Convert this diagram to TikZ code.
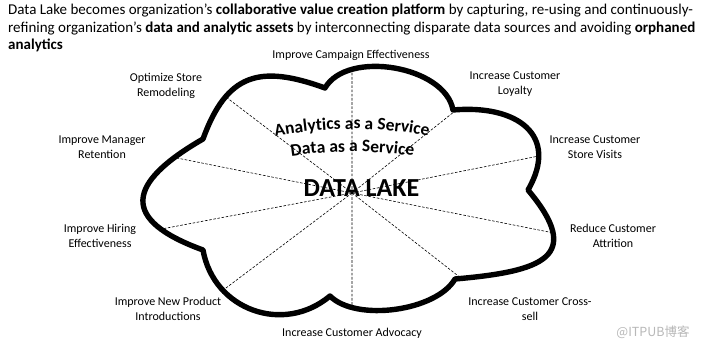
\documentclass[tikz,border=0pt]{standalone}
\usepackage{fontspec}
\setmainfont{Carlito}
\newfontfamily\cjkfont{Noto Sans CJK SC}
\usetikzlibrary{decorations.text,intersections}
\begin{document}
\begin{tikzpicture}[x=1pt,y=1pt,
  cloudline/.style={line width=5.4pt, line join=round, line cap=round},
  spoke/.style={line width=0.6pt, dash pattern=on 2.6pt off 1.6pt},
  lbl/.style={align=center, font=\fontsize{12}{14.6}\selectfont, inner sep=0pt},
]
\useasboundingbox (0,0) rectangle (704,-347);
\fill[white] (0,0) rectangle (704,-347);
\coordinate (c) at (352,-193);
\coordinate (d1) at (203,-139);
\coordinate (d2) at (325,-88);
\coordinate (d3) at (453,-110);
\coordinate (d4) at (528,-190);
\coordinate (d5) at (455,-279);
\coordinate (d6) at (330,-296);
\coordinate (d7) at (203,-250);
\path[name path=cloudp] (d1) to[out=70,in=160,looseness=1.35] (d2)
  to[out=60,in=100,looseness=0.88] (d3)
  to[out=5,in=60,looseness=1.49] (d4)
  to[out=-50,in=5,looseness=1.95] (d5)
  to[out=-120,in=-45,looseness=0.75] (d6)
  to[out=-140,in=-80,looseness=1.15] (d7)
  to[out=160,in=-150,looseness=2.05] (d1);
\foreach \a/\n in {90/1,38.5/2,11.2/3,-11.2/4,-38/5,-90/6,-143/7,-169.3/8,168.7/9,142.7/10}{
  \path[name path=ray\n] (c) -- ++(\a:320);
  \path[name intersections={of=cloudp and ray\n, by={e\n}}];
}
\foreach \n in {1,...,10}{\draw[spoke] (c) -- (e\n);}
\draw[cloudline] (d1) to[out=70,in=160,looseness=1.35] (d2)
  to[out=60,in=100,looseness=0.88] (d3)
  to[out=5,in=60,looseness=1.49] (d4)
  to[out=-50,in=5,looseness=1.95] (d5)
  to[out=-120,in=-45,looseness=0.75] (d6)
  to[out=-140,in=-80,looseness=1.15] (d7)
  to[out=160,in=-150,looseness=2.05] (d1);
% arched texts: baseline arcs centred on x = 352
\path[decorate, decoration={text along path, text align=center,
  text={|\fontsize{17.5}{20}\selectfont\bfseries|Analytics as a Service}}]
  (352,-529) ++(0,0) coordinate (ac)
  (ac) ++(105:400) arc[start angle=105, end angle=75, radius=400];
\path[decorate, decoration={text along path, text align=center,
  text={|\fontsize{17.5}{20}\selectfont\bfseries|Data as a Service}}]
  (276.1,-158.5) arc[start angle=100, end angle=80, radius=440];
\node[anchor=base, inner sep=0pt, font=\fontsize{26}{29}\selectfont\bfseries] (dl) at (361.5,-197) {DATA LAKE};
\node[anchor=north west, inner sep=0pt, align=left, font=\fontsize{15}{17.5}\selectfont] (title) at (8,-4)
 {Data Lake becomes organization’s \textbf{collaborative value creation platform} by capturing, re-using and continuously-\\
  refining organization’s \textbf{data and analytic assets} by interconnecting disparate data sources and avoiding \textbf{orphaned}\\
  \textbf{analytics}};
\node[lbl] (l1) at (351,-55) {Improve Campaign Effectiveness};
\node[lbl] (l2) at (515,-84) {Increase Customer\\Loyalty};
\node[lbl] (l3) at (595,-147) {Increase Customer\\Store Visits};
\node[lbl] (l4) at (613,-236) {Reduce Customer\\Attrition};
\node[lbl] (l5) at (530,-309) {Increase Customer Cross-\\sell};
\node[lbl] (l6) at (352,-333) {Increase Customer Advocacy};
\node[lbl] (l7) at (168,-309) {Improve New Product\\Introductions};
\node[lbl] (l8) at (100,-236) {Improve Hiring\\Effectiveness};
\node[lbl] (l9) at (102,-147) {Improve Manager\\Retention};
\node[lbl] (l10) at (166,-86) {Optimize Store\\Remodeling};
\node[font=\cjkfont\fontsize{12.5}{14}\selectfont, text=black!28, inner sep=0pt] (wm) at (653,-332) {@ITPUB博客};
\end{tikzpicture}
\end{document}
